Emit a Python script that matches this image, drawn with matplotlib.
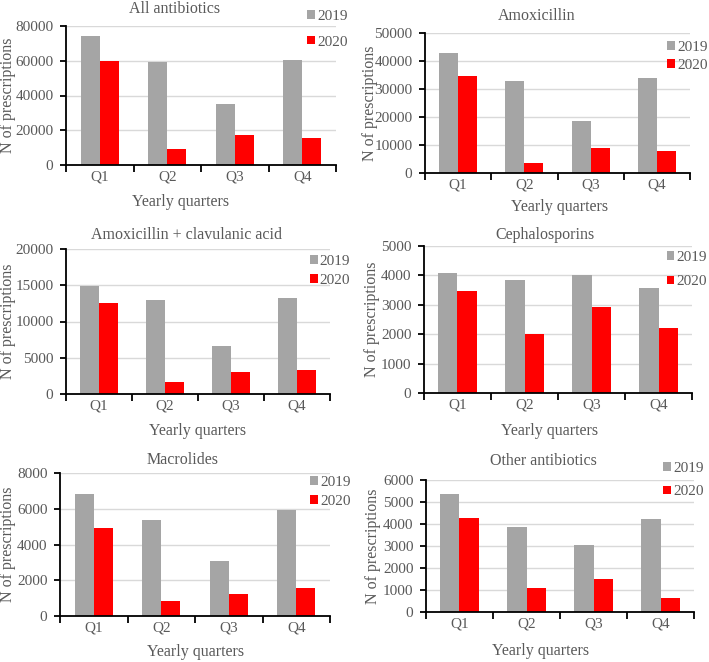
import matplotlib.pyplot as plt
import numpy as np

## Data
quarters = ['Q1', 'Q2', 'Q3', 'Q4']
years = ['2019', '2020']

all_2019 = [74000, 59000, 35000, 60500]
all_2020 = [60000, 9200, 17500, 15500]
amox_2019 = [43000, 33000, 18700, 33800]
amox_2020 = [34800, 3600, 8900, 7900]
amoxclav_2019 = [14900, 13000, 6600, 13200]
amoxclav_2020 = [12500, 1600, 3000, 3300]
ceph_2019 = [4080, 3830, 4030, 3580]
ceph_2020 = [3460, 2000, 2930, 2200]
macro_2019 = [6820, 5370, 3050, 5920]
macro_2020 = [4950, 830, 1230, 1580]
other_2019 = [5380, 3870, 3050, 4230]
other_2020 = [4260, 1110, 1520, 640]

titles = ['All antibiotics', 'Amoxicillin', 'Amoxicillin + clavulanic acid',
          'Cephalosporins', 'Macrolides', 'Other antibiotics']
ymax = [80000, 50000, 20000, 5000, 8000, 6000]
ystep = [20000, 10000, 5000, 1000, 2000, 1000]

## Layout (pixel positions)
W, H = 709, 662
# axes box: left, right, top, bottom
boxes = [(66, 336, 26, 165), (425, 690, 33, 173),
         (66, 330, 249, 394), (424, 692, 246, 393),
         (60, 330, 473, 616), (426, 694, 480, 612)]
title_xy = [(175, 9), (537, 16), (187, 235), (545, 235), (183, 460), (543, 461)]
xlab_xy = [(181, 202), (560, 207), (198, 431), (550, 431), (196, 652), (541, 651)]
ylab_x = [8, 370, 8, 372, 8, 373]
leg_xy = [(0.893, 1.115), (0.915, 0.943), (0.924, 0.96), (0.905, 0.966), (0.926, 0.98), (0.885, 1.136)]
leg_sp = [0.82, 0.34, 0.41, 0.75, 0.41, 0.68]

grey = '#a5a5a5'
red = '#ff0000'
txt = '#595959'

plt.rcParams['font.family'] = ['Liberation Serif', 'DejaVu Serif']
plt.rcParams['font.size'] = 10.5

fig = plt.figure(figsize=(W / 100, H / 100), dpi=100)

series = [(all_2019, all_2020), (amox_2019, amox_2020), (amoxclav_2019, amoxclav_2020),
          (ceph_2019, ceph_2020), (macro_2019, macro_2020), (other_2019, other_2020)]

x = np.arange(len(quarters))
bw = 0.285

for i, (a, b) in enumerate(series):
    l, r, t, bt = boxes[i]
    ax = fig.add_axes([l / W, 1 - bt / H, (r - l) / W, (bt - t) / H])
    ax.bar(x - bw / 2, a, bw, color=grey, label=years[0], zorder=2)
    ax.bar(x + bw / 2, b, bw, color=red, label=years[1], zorder=2)
    ax.set_xlim(-0.5, 3.5)
    ax.set_ylim(0, ymax[i])
    ax.set_yticks(np.arange(0, ymax[i] + 1, ystep[i]))
    ax.set_xticks(x)
    ax.set_xticklabels(quarters)
    ax.set_xticks(np.arange(-0.5, 4, 1), minor=True)
    ax.tick_params(axis='x', which='major', length=0, pad=4, colors=txt, labelsize=11)
    ax.tick_params(axis='x', which='minor', length=5, width=1.3, color='black')
    ax.tick_params(axis='y', length=4, width=1.3, color='black', labelcolor=txt, pad=5, labelsize=11)
    ax.grid(axis='y', color='#d9d9d9', lw=1, zorder=0)
    for s in ['top', 'right']:
        ax.spines[s].set_visible(False)
    for s in ['left', 'bottom']:
        ax.spines[s].set_linewidth(1.3)
        ax.spines[s].set_color('black')
    ax.legend(loc='upper left', bbox_to_anchor=leg_xy[i], frameon=False,
              handlelength=0.5, handleheight=0.5, handletextpad=0.15,
              labelspacing=leg_sp[i], borderpad=0, borderaxespad=0,
              labelcolor=txt, fontsize=11)

    tx, ty = title_xy[i]
    fig.text(tx / W, 1 - ty / H, titles[i], ha='center', va='center', color=txt, fontsize=11.5)
    lx, ly = xlab_xy[i]
    fig.text(lx / W, 1 - ly / H, 'Yearly quarters', ha='center', va='center', color=txt, fontsize=11.5)
    fig.text(ylab_x[i] / W, 1 - (t + bt) / 2 / H, 'N of prescriptions', rotation=90,
             ha='center', va='center', color=txt, fontsize=11.5)

plt.savefig('out.png', dpi=100)
